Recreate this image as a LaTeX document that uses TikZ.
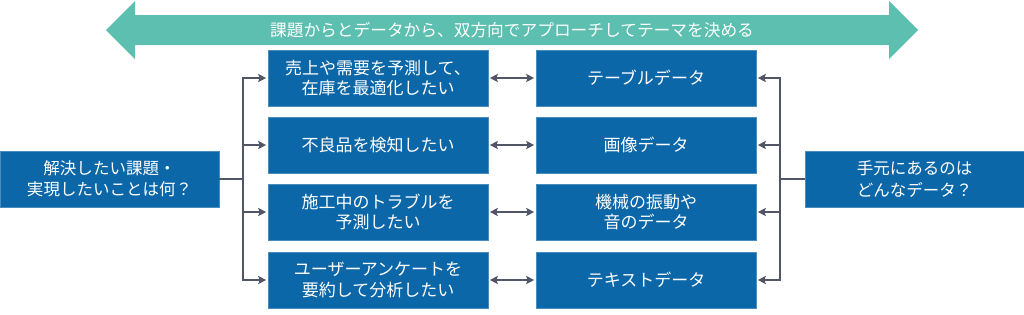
\documentclass[tikz,border=0pt]{standalone}
\usepackage{fontspec}
\setmainfont{Noto Sans CJK JP}
\usetikzlibrary{arrows.meta,positioning}
\definecolor{boxblue}{RGB}{12,103,168}
\definecolor{bandteal}{RGB}{92,191,176}
\definecolor{linkgray}{RGB}{80,86,104}

\begin{document}
\begin{tikzpicture}[x=1pt,y=-1pt,
    box/.style={fill=boxblue, draw=boxblue!75!white, line width=0.6pt, text=white,
      minimum width=220pt, minimum height=56pt, inner sep=0pt, align=center,
      font=\fontsize{17}{20.5}\selectfont},
    link/.style={draw=linkgray, line width=1.8pt, shorten >=1.5pt,
      -{Stealth[length=8pt,width=8pt,inset=1.5pt]}},
    both/.style={link, shorten <=1.5pt,
      {Stealth[length=8pt,width=8pt,inset=1.5pt]}-{Stealth[length=8pt,width=8pt,inset=1.5pt]}}]
    \useasboundingbox (0,0) rectangle (1024,314);
    % two-way band on top
    \fill[bandteal] (106,30) -- (135,1) -- (135,15) -- (889,15) -- (889,1) -- (918,30)
        -- (889,59) -- (889,45) -- (135,45) -- (135,59) -- cycle;
    \node[text=white, font=\fontsize{16.7}{21}\selectfont] (band) at (512,30)
        {課題からとデータから、双方向でアプローチしてテーマを決める};
    % outer questions
    \node[box, minimum width=219pt, font=\fontsize{16.5}{21.5}\selectfont] (goal) at (109.5,179)
        {解決したい課題・\\実現したいことは何？};
    \node[box, minimum width=219pt, font=\fontsize{16.5}{21.5}\selectfont] (have) at (914.5,179)
        {手元にあるのは\\どんなデータ？};
    % themes and data
    \node[box] (q1) at (378,78) {売上や需要を予測して、\\在庫を最適化したい};
    \node[box] (q2) at (378,145) {不良品を検知したい};
    \node[box] (q3) at (378,212) {施工中のトラブルを\\予測したい};
    \node[box] (q4) at (378,280) {ユーザーアンケートを\\要約して分析したい};
    \node[box] (d1) at (646,78) {テーブルデータ};
    \node[box] (d2) at (646,145) {画像データ};
    \node[box] (d3) at (646,212) {機械の振動や\\音のデータ};
    \node[box] (d4) at (646,280) {テキストデータ};
    \coordinate (lbus) at (243,179);
    \coordinate (rbus) at (780,179);
    \foreach \i in {1,...,4} {
        \draw[link] (goal.east) -- (lbus) |- (q\i.west);
        \draw[link] (have.west) -- (rbus) |- (d\i.east);
        \draw[both] (q\i.east) -- (d\i.west);
    }
\end{tikzpicture}
\end{document}
